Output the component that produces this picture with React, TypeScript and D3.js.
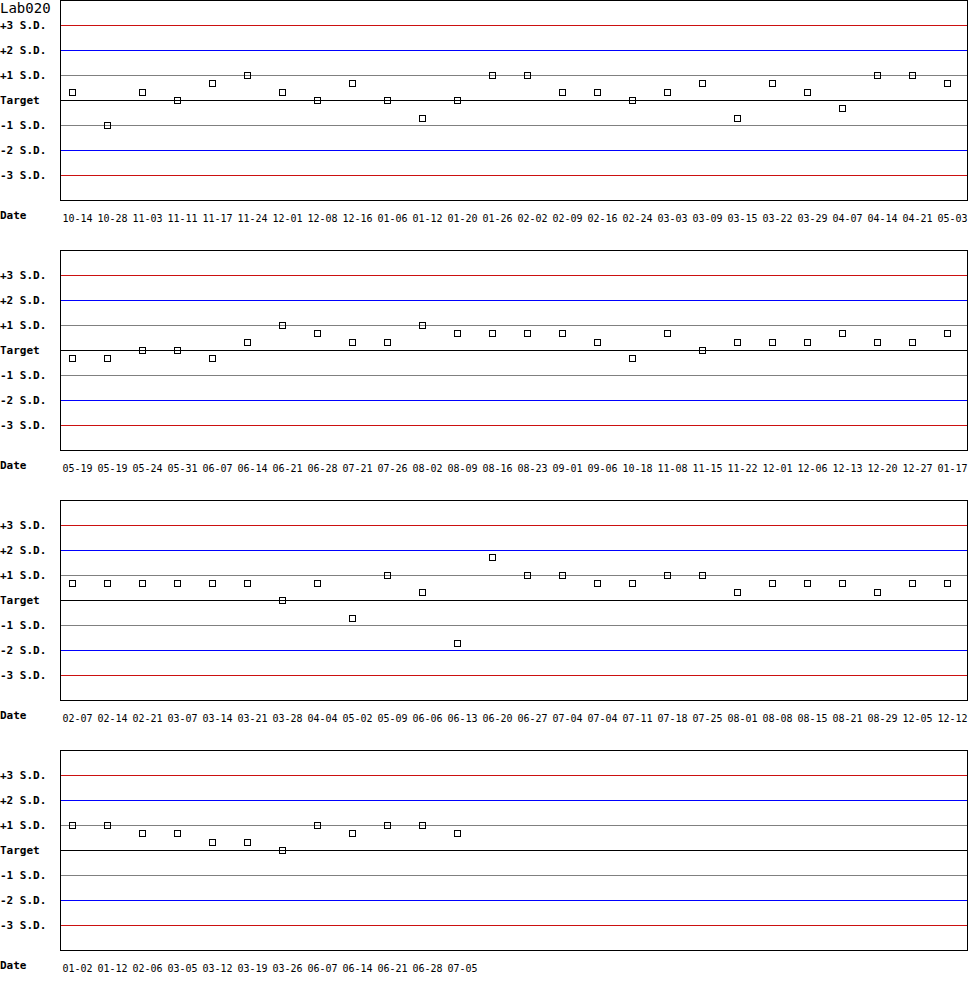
import { useEffect, useRef } from 'react';
import * as d3 from 'd3';

const title = 'Lab020';

const dates1 = ['10-14', '10-28', '11-03', '11-11', '11-17', '11-24', '12-01', '12-08', '12-16', '01-06', '01-12', '01-20', '01-26', '02-02', '02-09', '02-16', '02-24', '03-03', '03-09', '03-15', '03-22', '03-29', '04-07', '04-14', '04-21', '05-03'];
const values1 = [0.33, -1, 0.33, 0, 0.7, 1, 0.33, 0, 0.7, 0, -0.7, 0, 1, 1, 0.33, 0.33, 0, 0.33, 0.7, -0.7, 0.7, 0.33, -0.3, 1, 1, 0.7];

const dates2 = ['05-19', '05-19', '05-24', '05-31', '06-07', '06-14', '06-21', '06-28', '07-21', '07-26', '08-02', '08-09', '08-16', '08-23', '09-01', '09-06', '10-18', '11-08', '11-15', '11-22', '12-01', '12-06', '12-13', '12-20', '12-27', '01-17'];
const values2 = [-0.3, -0.3, 0, 0, -0.3, 0.33, 1, 0.7, 0.33, 0.33, 1, 0.7, 0.7, 0.7, 0.7, 0.33, -0.3, 0.7, 0, 0.33, 0.33, 0.33, 0.7, 0.33, 0.33, 0.7];

const dates3 = ['02-07', '02-14', '02-21', '03-07', '03-14', '03-21', '03-28', '04-04', '05-02', '05-09', '06-06', '06-13', '06-20', '06-27', '07-04', '07-04', '07-11', '07-18', '07-25', '08-01', '08-08', '08-15', '08-21', '08-29', '12-05', '12-12'];
const values3 = [0.7, 0.7, 0.7, 0.7, 0.7, 0.7, 0, 0.7, -0.7, 1, 0.33, -1.7, 1.7, 1, 1, 0.7, 0.7, 1, 1, 0.33, 0.7, 0.7, 0.7, 0.33, 0.7, 0.7];

const dates4 = ['01-02', '01-12', '02-06', '03-05', '03-12', '03-19', '03-26', '06-07', '06-14', '06-21', '06-28', '07-05'];
const values4 = [1, 1, 0.7, 0.7, 0.33, 0.33, 0, 1, 0.7, 1, 1, 0.7];

const panels = [
  { dates: dates1, values: values1 },
  { dates: dates2, values: values2 },
  { dates: dates3, values: values3 },
  { dates: dates4, values: values4 },
];

// control limit lines, in S.D. units
const limitLevels = [3, 2, 1, 0, -1, -2, -3];
const limitLabels = ['+3 S.D.', '+2 S.D.', '+1 S.D.', 'Target', '-1 S.D.', '-2 S.D.', '-3 S.D.'];
const limitColors: Record<number, string> = {
  3: '#cc1111',
  2: '#0000ff',
  1: '#808080',
  0: '#000000',
};

const mono = '"DejaVu Sans Mono", "Liberation Mono", monospace';

export default function App() {
  const svgRef = useRef<SVGSVGElement>(null);

  useEffect(() => {
    document.body.style.margin = '0';
    if (!svgRef.current) return;

    const width = 970;
    const height = 1000;
    const panelHeight = 250;
    const plotH = 200;
    const left = 60;
    const right = 968;

    const svg = d3.select(svgRef.current);
    svg.selectAll('*').remove();
    svg.attr('width', width).attr('height', height);

    const y = d3.scaleLinear().domain([-4, 4]).range([plotH, 0]);
    const x = d3.scaleLinear().domain([0, 25]).range([72, 947]);

    svg
      .append('text')
      .attr('x', 0)
      .attr('y', 13)
      .attr('font-family', mono)
      .attr('font-size', 14)
      .attr('fill', '#000')
      .text(title);

    panels.forEach((panel, p) => {
      const g = svg.append('g').attr('transform', `translate(0,${p * panelHeight})`);

      // Limit lines
      limitLevels.forEach((lv, i) => {
        const ly = Math.round(y(lv)) + 0.5;
        g.append('line')
          .attr('x1', left)
          .attr('x2', right)
          .attr('y1', ly)
          .attr('y2', ly)
          .attr('stroke', limitColors[Math.abs(lv)])
          .attr('stroke-width', 1)
          .attr('shape-rendering', 'crispEdges');

        g.append('text')
          .attr('x', 0)
          .attr('y', y(lv) + 3.5)
          .attr('font-family', mono)
          .attr('font-weight', 'bold')
          .attr('font-size', 11)
          .attr('fill', '#000')
          .text(limitLabels[i]);
      });

      // Frame
      g.append('rect')
        .attr('x', left + 0.5)
        .attr('y', 0.5)
        .attr('width', right - left - 1)
        .attr('height', plotH)
        .attr('fill', 'none')
        .attr('stroke', '#000')
        .attr('stroke-width', 1)
        .attr('shape-rendering', 'crispEdges');

      // Points
      panel.values.forEach((v, i) => {
        const cx = Math.round(x(i));
        const cy = Math.round(y(v));
        g.append('rect')
          .attr('x', cx - 3 + 0.5)
          .attr('y', cy - 3 + 0.5)
          .attr('width', 6)
          .attr('height', 6)
          .attr('fill', 'none')
          .attr('stroke', '#000')
          .attr('stroke-width', 1)
          .attr('shape-rendering', 'crispEdges');
      });

      // Date row
      g.append('text')
        .attr('x', 0)
        .attr('y', plotH + 19)
        .attr('font-family', mono)
        .attr('font-weight', 'bold')
        .attr('font-size', 11)
        .attr('fill', '#000')
        .text('Date');

      panel.dates.forEach((d, i) => {
        g.append('text')
          .attr('x', x(i) + 5.5)
          .attr('y', plotH + 21.5)
          .attr('text-anchor', 'middle')
          .attr('font-family', mono)
          .attr('font-size', 10)
          .attr('fill', '#000')
          .text(d);
      });
    });
  }, []);

  return <svg ref={svgRef} style={{ display: 'block' }} />;
}
